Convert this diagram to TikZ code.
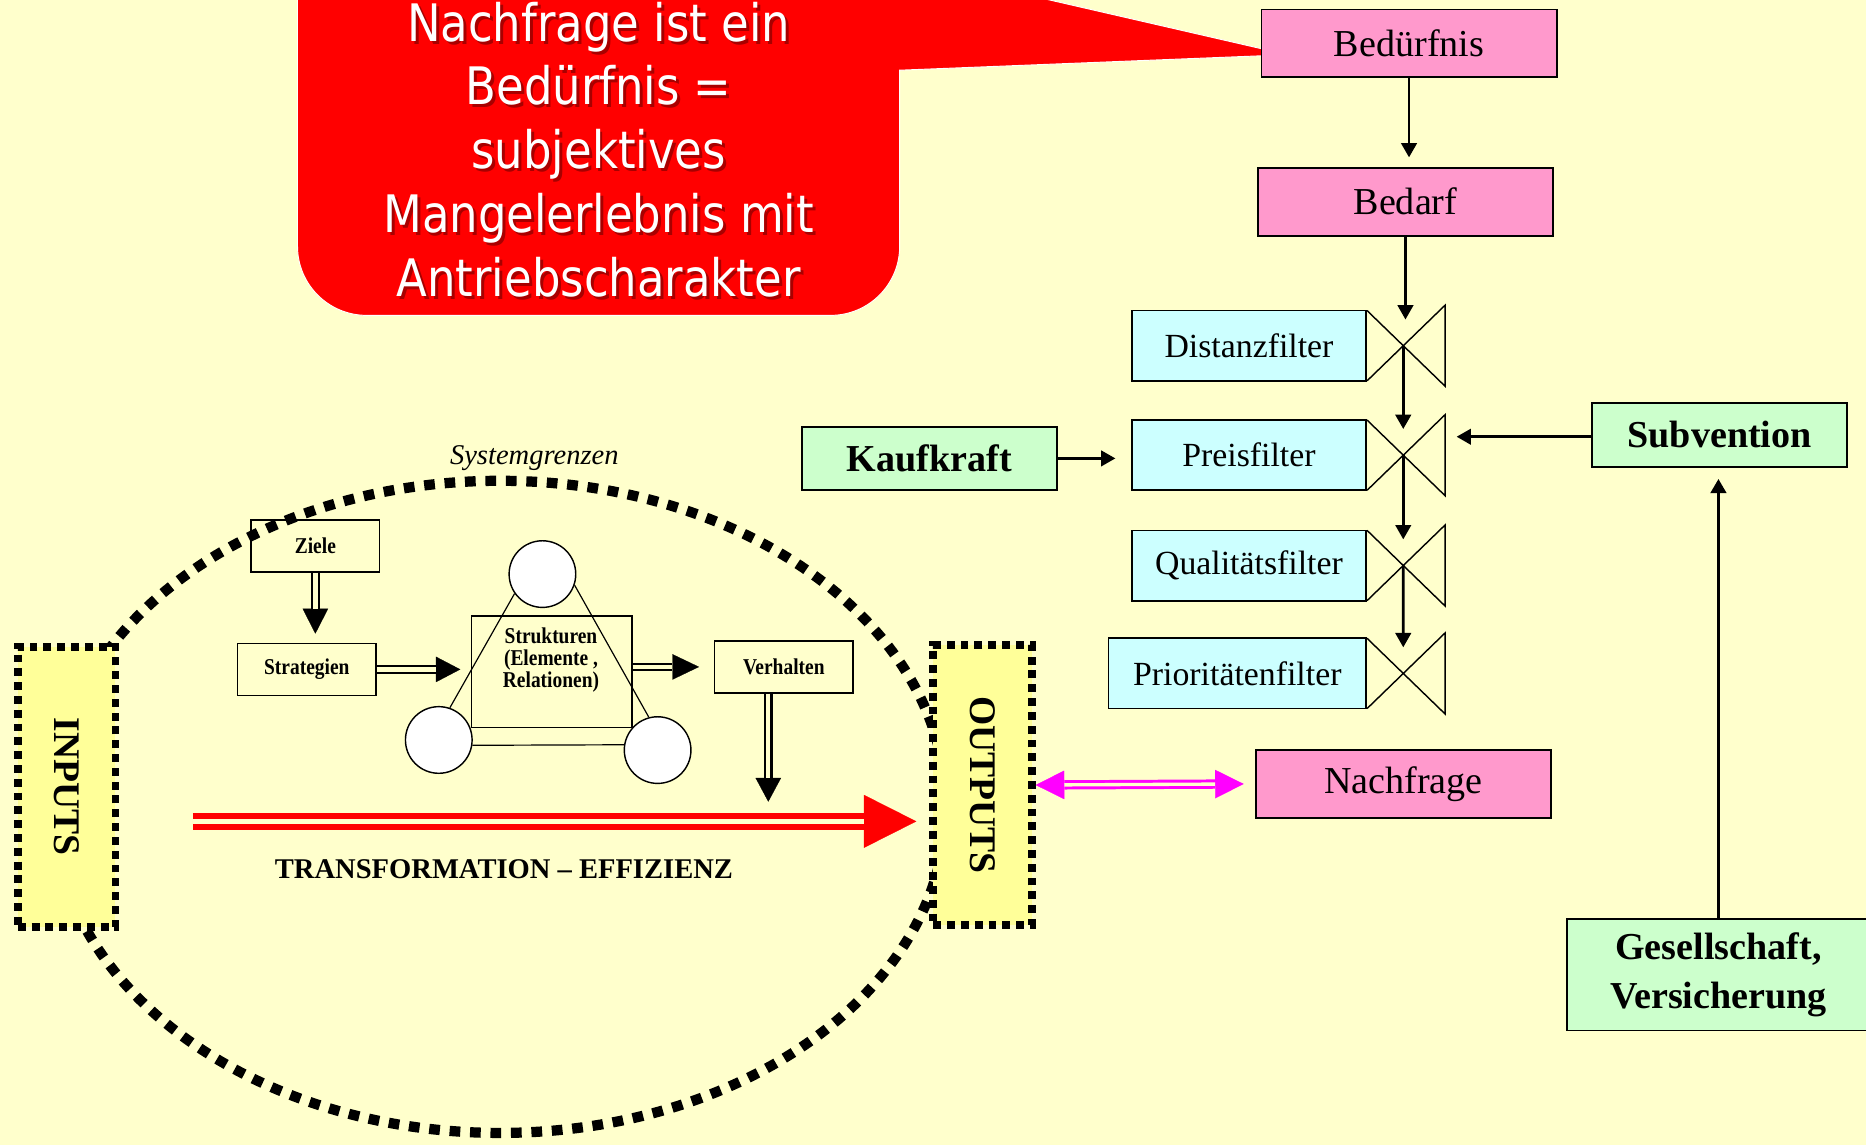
\documentclass[tikz,border=0pt]{standalone}
\usepackage{fontspec}
\setmainfont{Liberation Serif}
\newfontfamily\calloutfont[FakeStretch=0.87]{DejaVu Sans}
\newfontfamily\narrowserif[FakeStretch=0.86]{Liberation Serif}
\usetikzlibrary{arrows.meta,calc}

\definecolor{paper}{HTML}{FFFFCC}
\definecolor{pinkbox}{HTML}{FF99CC}
\definecolor{cyanbox}{HTML}{CCFFFF}
\definecolor{greenbox}{HTML}{CCFFCC}
\definecolor{ioyellow}{HTML}{FFFF99}
\definecolor{alarmred}{HTML}{FF0000}
\definecolor{shadowred}{HTML}{8B0000}
\definecolor{linkmagenta}{HTML}{FF00FF}

\begin{document}
\begin{tikzpicture}[x=0.5pt, y=-0.5pt,
  box/.style={draw=black, line width=0.75pt, inner sep=0pt},
  need/.style={box, fill=pinkbox, minimum width=124pt, minimum height=28.5pt,
    font=\fontsize{16}{19}\selectfont},
  filterbox/.style={box, fill=cyanbox, minimum width=98.5pt, minimum height=29.5pt,
    font=\fontsize{14.2}{17}\selectfont},
  factor/.style={box, fill=greenbox, minimum width=107pt, minimum height=26.6pt,
    font=\bfseries\fontsize{16}{20.3}\selectfont, align=center},
  sysbox/.style={draw=black, line width=0.6pt, inner sep=0pt, minimum height=21.8pt,
    font=\narrowserif\bfseries\fontsize{9.5}{9.3}\selectfont},
  syslabel/.style={font=\narrowserif\bfseries\fontsize{9.5}{9.25}\selectfont, align=center, inner sep=0pt},
  element/.style={circle, draw=black, fill=white, line width=0.6pt, minimum size=28pt, inner sep=0pt},
  ioframe/.style={draw=black, fill=ioyellow, line width=3.3pt, dash pattern=on 3.3pt off 2.5pt,
    minimum width=41pt, minimum height=117.65pt, inner sep=0pt,
    font=\bfseries\fontsize{15.8}{18}\selectfont},
  systemline/.style={line width=4.3pt, dash pattern=on 4.5pt off 4.1pt},
  calloutlines/.style={font=\calloutfont\fontsize{21.7}{26.8}\selectfont, align=center, inner sep=0pt},
  flow/.style={line width=1.1pt, -{Triangle[length=6pt,width=6.5pt]}},
  twinshaft/.style={line width=0.95pt, double=paper, double distance=1.8pt},
  headonly/.style={line width=0.1pt, -{Triangle[length=#1,width=10.7pt]}},
  valve/.pic={\draw[line width=0.6pt] (0,-29.5) -- (65.5,34) -- (65.5,-34) -- (0,29.5);}
]
\useasboundingbox (0,0) rectangle (1568,962);
\clip (0,0) rectangle (1568,962);
\fill[paper] (0,0) rectangle (1568,962);

% speech bubble pointing at the first box of the chain
\fill[alarmred, draw=white, line width=0.4pt]
  (250,-6) -- (250,207) .. controls (250,239) and (276,265) .. (308,265)
  -- (698,265) .. controls (730,265) and (756,239) .. (756,207)
  -- (756,59) -- (1082,46) -- (856,-6) -- cycle;
\node[calloutlines, text=shadowred, opacity=0.75] (calloutshadow) at (505.5,128)
  {Nachfrage ist ein\\Bedürfnis =\\subjektives\\Mangelerlebnis mit\\Antriebscharakter};
\node[calloutlines, text=white] (callouttext) at (503,125.6)
  {Nachfrage ist ein\\Bedürfnis =\\subjektives\\Mangelerlebnis mit\\Antriebscharakter};

% demand chain
\node[need] (beduerfnis) at (1184,36.5) {Bedürfnis};
\node[need] (bedarf) at (1181,169.5) {Bedarf};
\node[filterbox] (distanz) at (1049.5,290.5) {Distanzfilter};
\node[filterbox] (preis) at (1049.5,382.5) {Preisfilter};
\node[filterbox] (qualitaet) at (1049.5,475.2) {Qualitätsfilter};
\node[filterbox, minimum width=108.3pt] (prioritaet) at (1039.7,565.9) {Prioritätenfilter};
\node[need] (nachfrage) at (1179.2,658.7) {Nachfrage};

\pic at (distanz.east) {valve};
\pic at (preis.east) {valve};
\pic at (qualitaet.east) {valve};
\pic at (prioritaet.east) {valve};
\coordinate (v1) at ($(distanz.east)+(30.4,0)$);
\coordinate (v2) at ($(preis.east)+(30.4,0)$);
\coordinate (v3) at ($(qualitaet.east)+(30.4,0)$);
\coordinate (v4) at ($(prioritaet.east)+(30.4,0)$);

\draw[flow, line width=1.2pt, shorten >=4pt] (beduerfnis.south) -- (beduerfnis.south |- bedarf.north);
\draw[flow, shorten >=11pt] (bedarf.south) -- (bedarf.south |- v1);
\draw[flow, shorten >=11pt] (v1) -- (v2);
\draw[flow, shorten >=11pt] (v2) -- (v3);
\draw[flow, shorten >=11pt] (v3) -- (v4);

% influencing factors
\node[factor] (kaufkraft) at (781,385.2) {Kaufkraft};
\node[factor] (subvention) at (1445,365.5) {Subvention};
\node[factor, minimum width=127.5pt, minimum height=47pt] (gesellschaft) at (1444,819)
  {Gesellschaft,\\Versicherung};
\coordinate (subtip) at (1224,367);

\draw[flow, shorten >=6.5pt] (kaufkraft.east) -- (kaufkraft.east -| preis.west);
\draw[flow] (subvention.west |- subtip) -- (subtip);
\draw[flow, line width=1.4pt, shorten >=4.8pt] (gesellschaft.north) -- (gesellschaft.north |- subvention.south);

% system with its boundary
\draw[systemline] (420,678) ellipse [x radius=187.5pt, y radius=137pt];
\node[font=\itshape\fontsize{12}{14}\selectfont] (grenze) at (449,385) {Systemgrenzen};

\node[ioframe] (inputs) at (56,661) {\rotatebox{-90}{INPUTS}};
\node[ioframe, minimum width=41.35pt] (outputs) at (825.65,659.65) {\rotatebox{-90}{OUTPUTS}};

\node[sysbox, minimum width=54pt] (ziele) at (265,458.9) {Ziele};
\node[sysbox, minimum width=58.2pt] (strategien) at (257.8,562.5) {Strategien};
\node[sysbox, minimum width=58.1pt] (verhalten) at (658.7,560.4) {Verhalten};
\node[sysbox, minimum width=67.5pt, minimum height=47pt] (strukturen) at (463.5,564.5) {};
\node[syslabel] (strukturtext) at (463,555) {Strukturen\\(Elemente ,\\Relationen)};

\node[element] (c1) at (455.8,482.4) {};
\node[element] (c2) at (368.7,621.8) {};
\node[element] (c3) at (552.6,630.3) {};
\draw[line width=0.5pt] (c1.215) -- (c2.71);
\draw[line width=0.5pt] (c1.341) -- (c3.105);
\draw[line width=0.5pt] (c2.351) -- (c3.171);

% double-lined flow arrows inside the system
\draw[headonly=10.5pt, shorten >=3.8pt] (ziele.south) -- (ziele.south |- strategien.north);
\draw[twinshaft, shorten >=14.3pt] (ziele.south) -- (ziele.south |- strategien.north);

\draw[headonly=10.25pt, shorten >=4.3pt] (strategien.east) -- (strategien.east -| strukturen.west);
\draw[twinshaft, shorten >=14.55pt] (strategien.east) -- (strategien.east -| strukturen.west);

\draw[headonly=11.2pt, shorten >=6.3pt] (verhalten.west -| strukturen.east) -- (verhalten.west);
\draw[twinshaft, shorten >=17.5pt] (verhalten.west -| strukturen.east) -- (verhalten.west);

\coordinate (vend) at (645.6,673.7);
\draw[headonly=10pt] (vend |- verhalten.south) -- (vend);
\draw[twinshaft, shorten >=10pt] (vend |- verhalten.south) -- (vend);

% transformation arrow
\coordinate (tstart) at (162,690.2);
\coordinate (ttip) at (770,690.2);
\draw[alarmred, line width=0.1pt, -{Triangle[length=22pt,width=22.2pt]}] (tstart) -- (ttip);
\draw[alarmred, line width=2.6pt, double=paper, double distance=2.15pt, shorten >=22pt] (tstart) -- (ttip);
\node[font=\bfseries\fontsize{12}{14}\selectfont] (transform) at (423.5,730.7) {TRANSFORMATION – EFFIZIENZ};

% outputs meet demand
\draw[linkmagenta, line width=0.1pt, {Triangle[length=12pt,width=12pt]}-{Triangle[length=12pt,width=12pt]}, shorten >=4.7pt]
  (outputs.east) -- (nachfrage.west);
\draw[linkmagenta, line width=1.25pt, double=paper, double distance=1.4pt, shorten <=12pt, shorten >=16.7pt]
  (outputs.east) -- (nachfrage.west);
\end{tikzpicture}
\end{document}
